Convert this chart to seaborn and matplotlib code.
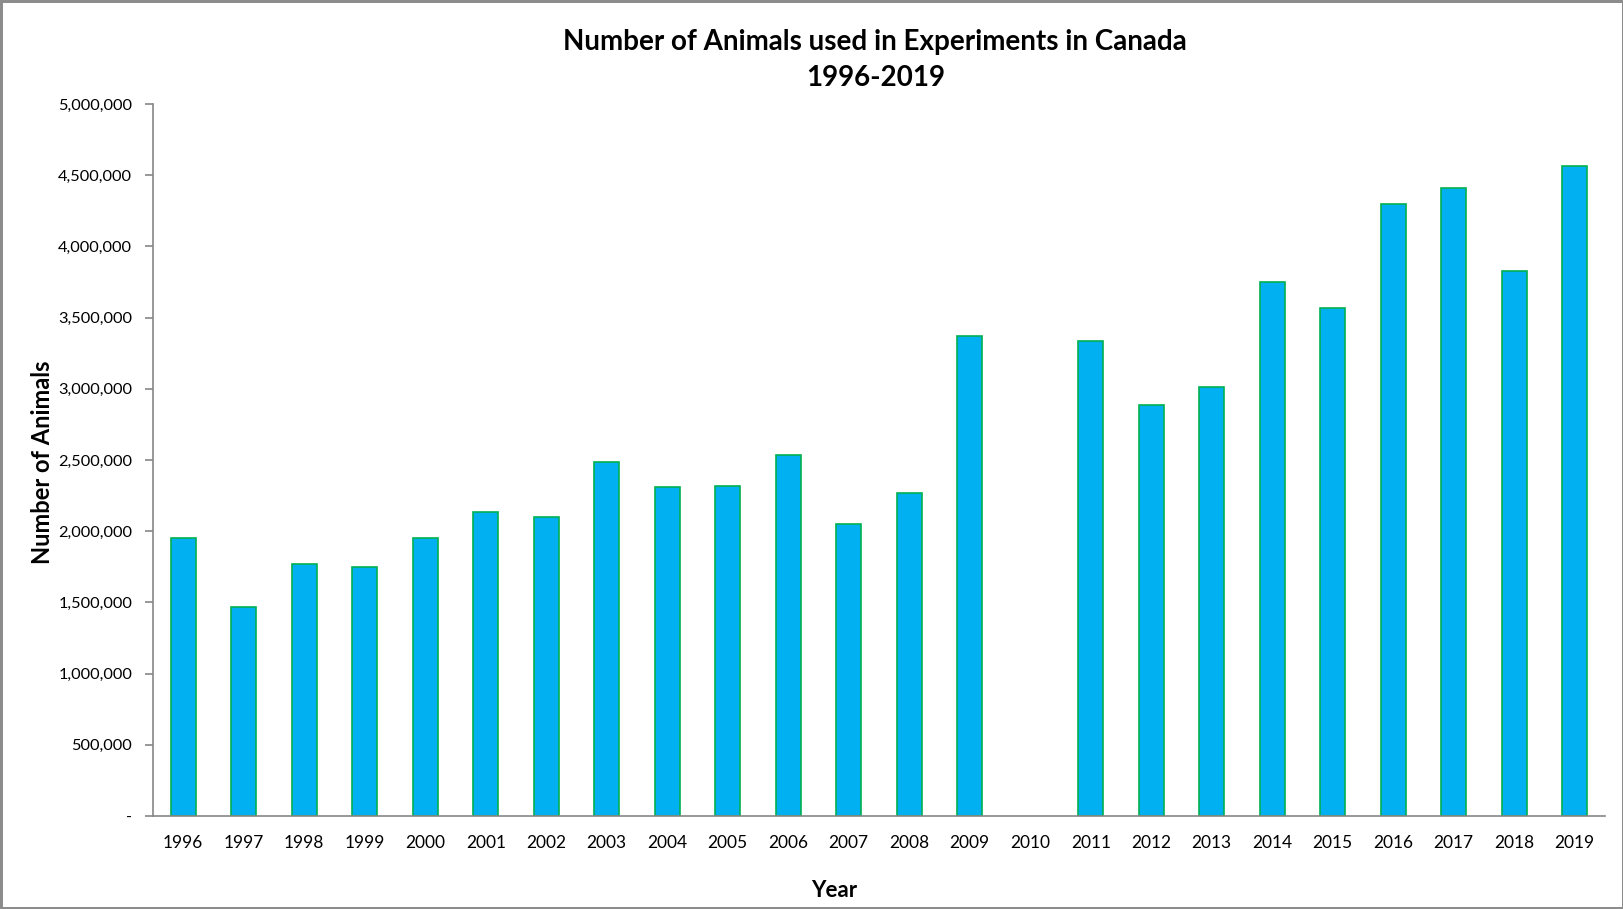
import pandas as pd
import matplotlib.pyplot as plt
import matplotlib.ticker as mticker
import seaborn as sns
import numpy as np

# Data (2010 has no bar)
years = [str(y) for y in range(1996, 2020)]
animals = [1950000, 1470000, 1768000, 1747000, 1950000, 2132000, 2103000,
           2489000, 2307000, 2314000, 2533000, 2052000, 2271000, 3370000,
           np.nan, 3333000, 2889000, 3013000, 3748000, 3566000, 4301000,
           4410000, 3828000, 4563000]

df = pd.DataFrame({'Year': years, 'Animals': animals})

sns.set_style('white')
plt.rcParams['font.family'] = ['Lato', 'DejaVu Sans']

fig = plt.figure(figsize=(16.24, 9.09), dpi=100)
fig.patch.set_edgecolor('#8c8c8c')
fig.patch.set_linewidth(2.5)
ax = fig.add_axes([0.0942, 0.1023, 0.8941, 0.7833])

sns.barplot(data=df, x='Year', y='Animals', color='#00B0F0', saturation=1,
            width=0.41, edgecolor='#00B050', linewidth=1.2, ax=ax)

ax.set_xlim(-0.5, len(years) - 0.5)
ax.set_ylim(0, 5000000)
ax.yaxis.set_major_locator(mticker.MultipleLocator(500000))
ax.yaxis.set_major_formatter(mticker.FuncFormatter(
    lambda v, p: '-' if v == 0 else f'{int(v):,}'))

# ticks between categories on the x axis
ax.set_xticks(np.arange(-0.5, len(years), 1.0), minor=True)
ax.tick_params(axis='x', which='major', length=0, pad=14, labelsize=12.5,
               labelcolor='black')
ax.tick_params(axis='x', which='minor', length=6, width=1.2, color='#868686')
ax.tick_params(axis='y', which='major', length=6, width=1.2, color='#868686',
               labelsize=11.8, pad=9, left=True, labelcolor='black')

for s in ['top', 'right']:
    ax.spines[s].set_visible(False)
for s in ['left', 'bottom']:
    ax.spines[s].set_color('#868686')
    ax.spines[s].set_linewidth(1.2)

ax.set_xlabel('')
ax.set_ylabel('')
fig.text(0.5135, 0.020, 'Year', fontsize=16, fontweight='bold',
         ha='center', va='center', color='black')
fig.text(0.0262, 0.492, 'Number of Animals', fontsize=17, fontweight='bold',
         rotation=90, ha='center', va='center', color='black')
fig.text(0.539, 0.934, 'Number of Animals used in Experiments in Canada\n1996-2019',
         fontsize=20, fontweight='bold', ha='center', va='center',
         linespacing=1.44, color='black')

plt.savefig('out.png', dpi=100, edgecolor=fig.get_edgecolor())
plt.close()
